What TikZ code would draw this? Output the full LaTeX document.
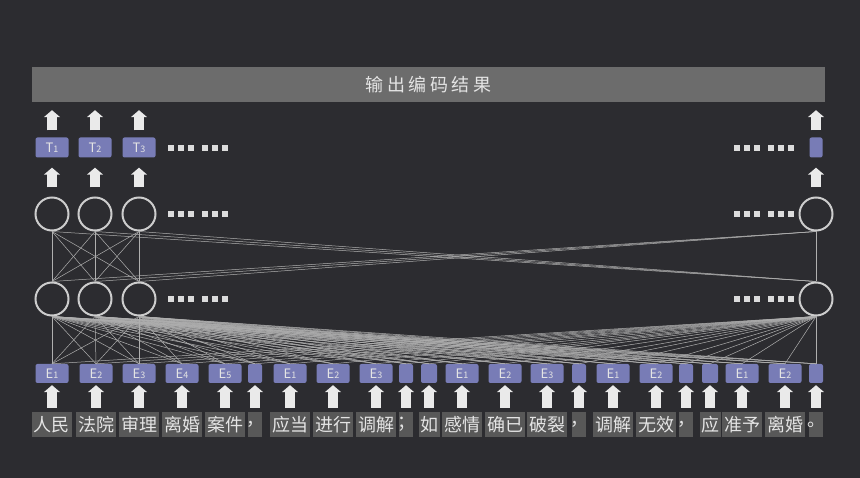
\documentclass[tikz,border=0pt]{standalone}
\usepackage{fontspec}
\newfontfamily\cjk{Noto Sans CJK SC}
\usetikzlibrary{arrows.meta}
\definecolor{bg}{RGB}{44,44,48}
\definecolor{bar}{RGB}{108,108,108}
\definecolor{boxc}{RGB}{120,124,182}
\definecolor{tokc}{RGB}{88,88,88}
\definecolor{txt}{RGB}{228,228,228}
\definecolor{ring}{RGB}{205,205,205}
\definecolor{wirec}{RGB}{175,175,175}
\definecolor{arr}{RGB}{234,234,234}
\definecolor{dotc}{RGB}{220,220,220}
\newcommand{\sub}[1]{{\fontsize{9}{9}\selectfont#1}}
\begin{document}
\begin{tikzpicture}[x=1pt,y=-1pt,
	neuron/.style={circle,draw=ring,line width=2pt,minimum size=33pt,inner sep=0pt},
	emb/.style={fill=boxc,rounded corners=2pt,minimum height=19pt,inner sep=0pt,text=txt,font=\cjk\fontsize{13}{13}\selectfont},
	tok/.style={fill=tokc,minimum height=25pt,inner sep=0pt,text=txt,font=\cjk\fontsize{18}{18}\selectfont},
	up/.style={draw=arr,line width=10pt,-{Triangle[width=16pt,length=7pt]}},
	wire/.style={draw=wirec,line width=0.5pt}]
	\fill[bg] (0,0) rectangle (860,478);
	\node[fill=bar,minimum width=793pt,minimum height=35pt,inner sep=0pt,text=txt,font=\cjk\fontsize{18}{18}\selectfont\addfontfeatures{LetterSpace=20}] (head) at (428.5,84.5) {输出编码结果};
	\foreach \i/\x in {1/52,2/95,3/139}{
		\node[emb,minimum width=33pt,minimum height=20pt] (t\i) at (\x,147.5) {T\sub{\i}};
		\node[neuron] (h\i) at (\x,214) {};
		\node[neuron] (b\i) at (\x,299) {};
	}
	\node[emb,minimum width=13pt,minimum height=20pt] (tr) at (816,147.5) {};
	\node[neuron] (hr) at (816,214) {};
	\node[neuron] (br) at (816,299) {};
	\foreach \x in {168,734} \foreach \y in {148,214,299} \foreach \d in {0,10,20,34,44,54}
		\fill[dotc] (\x+\d,\y-3) rectangle ++(6,6);
	\foreach \a in {1,2,3,r}{
		\foreach \b in {1,2,3,r} \draw[wire] (h\a.south) -- (b\b.north);
		\draw[up,shorten <=9pt,shorten >=10pt] (h\a.north) -- (t\a.south);
		\draw[up,shorten <=7pt,shorten >=8pt] (t\a.north) -- (t\a.north |- head.south);
	}
	\foreach \i/\x/\tw/\ew/\lab/\word in {1/52/40/33/{E\sub1}/人民,2/96/40/33/{E\sub2}/法院,3/139/40/33/{E\sub3}/审理,
		4/182/40/33/{E\sub4}/离婚,5/225/40/33/{E\sub5}/案件,6/255/14/14/{}/，,7/290/40/33/{E\sub1}/应当,
		8/333/40/33/{E\sub2}/进行,9/376/40/33/{E\sub3}/调解,10/406/14/14/{}/；,11/429/21/16/{}/如,
		12/462/40/33/{E\sub1}/感情,13/505/40/33/{E\sub2}/确已,14/547/40/33/{E\sub3}/破裂,15/579/14/14/{}/，,
		16/613/40/33/{E\sub1}/调解,17/656/40/33/{E\sub2}/无效,18/686/14/14/{}/，,19/710/21/16/{}/应,
		20/742/40/33/{E\sub1}/准予,21/785/40/33/{E\sub2}/离婚,22/816/14/14/{}/。}{
		\node[tok,minimum width=\tw pt] (w\i) at (\x,424.5) {\makebox[0pt]{\word}};
		\node[emb,minimum width=\ew pt] (e\i) at (\x,373.5) {\lab};
		\draw[up,shorten <=4pt,shorten >=2pt] (w\i.north) -- (e\i.south);
		\foreach \a in {1,2,3,r} \draw[wire] (b\a.south) -- (e\i.north);
	}
\end{tikzpicture}
\end{document}
